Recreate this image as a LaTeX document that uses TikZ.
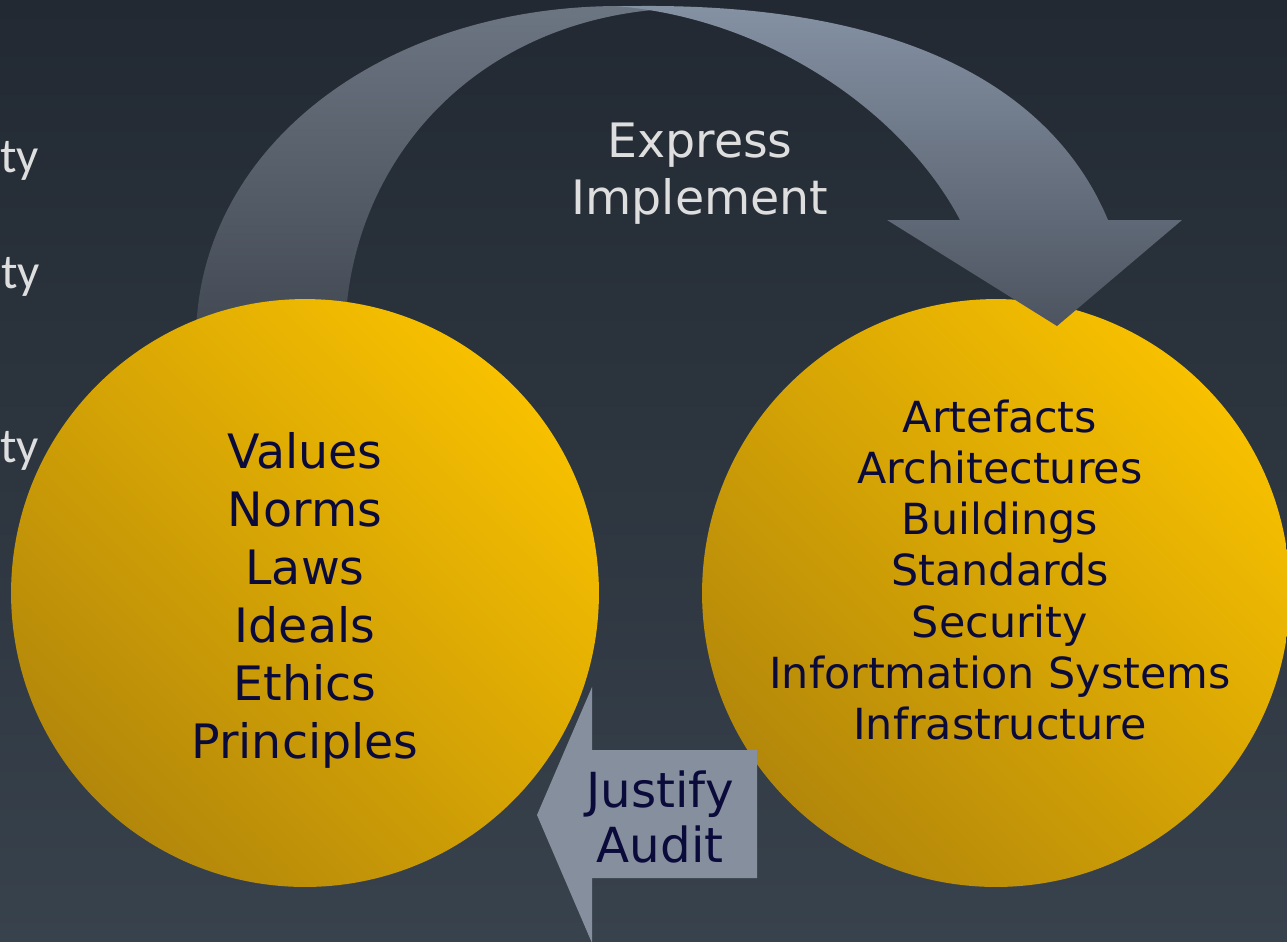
\documentclass[tikz,border=0pt]{standalone}
\usepackage{fontspec}
\setmainfont{DejaVu Sans}
\newfontfamily\slidefont{Carlito}
\usetikzlibrary{positioning}

\definecolor{bgtop}{HTML}{222932}
\definecolor{bgbot}{HTML}{38424C}
\definecolor{goldlight}{HTML}{F7C000}
\definecolor{golddark}{HTML}{B3870A}
\definecolor{navytext}{HTML}{0B0B3B}
\definecolor{greytext}{HTML}{DEDEDE}
\definecolor{arrowgrey}{HTML}{868F9D}
\definecolor{bandtop}{HTML}{6C7582}
\definecolor{bandbot}{HTML}{414852}
\definecolor{headtop}{HTML}{8592A4}
\definecolor{headbot}{HTML}{4D5460}

\tikzset{
  disc/.style={circle, minimum size=11.76cm, inner sep=0pt,
    top color=goldlight, bottom color=golddark, shading angle=-45},
  circtext/.style={align=center, text=navytext},
  tytext/.style={text=greytext, inner sep=0pt, font=\slidefont\fontsize{28}{34}\selectfont}
}

\begin{document}
\begin{tikzpicture}[x=0.02cm,y=-0.02cm]
\useasboundingbox (0,0) rectangle (1287,941);
\shade[top color=bgtop, bottom color=bgbot] (0,0) rectangle (1287,941);

% cut-off words at the left edge
\node[tytext, anchor=base west] (ty1) at (0,172) {ty};
\node[tytext, anchor=base west] (ty2) at (1,288) {ty};
\node[tytext, anchor=base west] (ty3) at (0,462) {ty};

% curved arrow, left band (under the circle)
\shade[top color=bandtop, bottom color=bandbot]
  (196,340) .. controls (196,150) and (380,6) .. (620,6) -- (690,8)
  .. controls (480,10) and (345,160) .. (345,340) -- cycle;

\node[text=greytext, align=center, font=\fontsize{27}{32.4}\selectfont] (express) at (700,174) {Express\\Implement};

\node[disc] (values) at (305,593) {};
\node[disc] (artefacts) at (996,593) {};

% right band with head, on top of the circle
\shade[top color=headtop, bottom color=headbot]
  (615,6) -- (640,6) .. controls (930,4) and (1060,105) .. (1108,220)
  -- (1182,220) -- (1057,326) -- (887,220) -- (960,220)
  .. controls (905,115) and (770,18) .. (615,6) -- cycle;

\node[circtext, font=\fontsize{27}{33}\selectfont] (valtext) at ([yshift=-4]values.center) {Values\\Norms\\Laws\\Ideals\\Ethics\\Principles};
\node[circtext, font=\fontsize{24.4}{29.1}\selectfont] (arttext) at ([shift={(4,-23)}]artefacts.center) {Artefacts\\Architectures\\Buildings\\Standards\\Security\\Infortmation Systems\\Infrastructure};

% straight arrow back to the left
\fill[arrowgrey] (757,750) -- (592,750) -- (592,687) -- (537,815)
  -- (592,943) -- (592,878) -- (757,878) -- cycle;
\node[circtext, font=\fontsize{27.5}{31.3}\selectfont] (justify) at (660,817) {Justify\\Audit};
\end{tikzpicture}
\end{document}
